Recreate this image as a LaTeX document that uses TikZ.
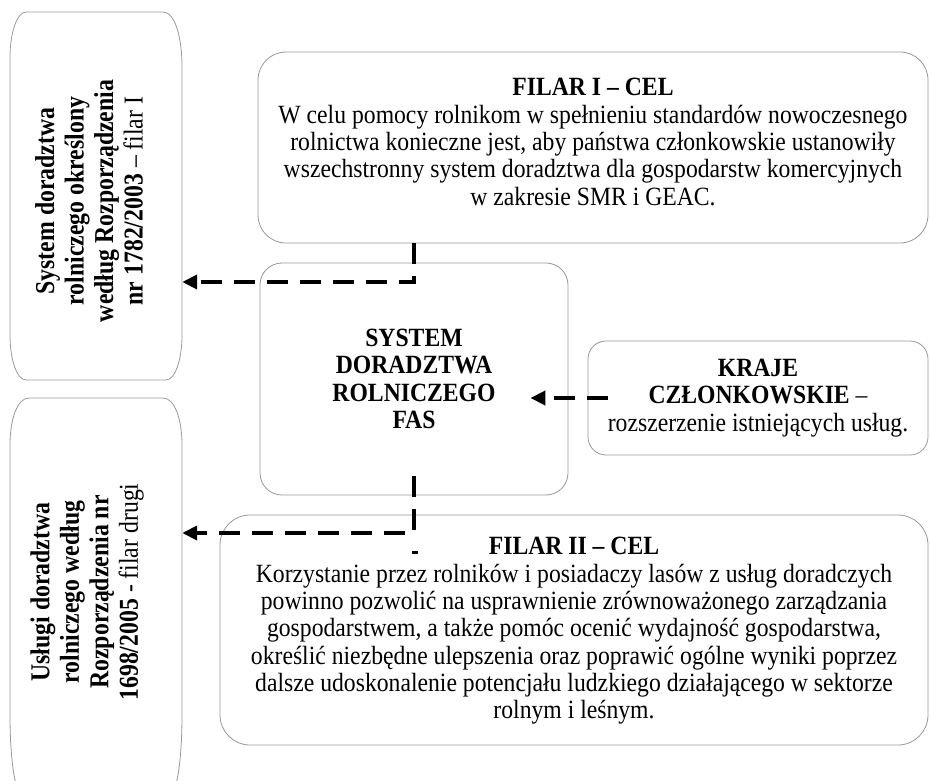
\documentclass[tikz,border=0pt]{standalone}
\usepackage{fontspec}
\setmainfont{Liberation Serif}
\newfontfamily\boxfont[FakeStretch=0.9]{Liberation Serif}
\newfontfamily\sidefont[FakeStretch=0.87]{Liberation Serif}
\usetikzlibrary{arrows.meta}

\tikzset{
  frame/.style={draw=black!40, line width=0.8pt, fill=white, rounded corners=#1},
  frame/.default=22pt,
  txt/.style={align=center, inner sep=0pt, font=\boxfont\fontsize{26.3}{27.3}\selectfont},
  sidetxt/.style={align=center, inner sep=0pt, rotate=90, font=\sidefont\fontsize{27.3}{29.5}\selectfont},
  conn/.style={line width=4.5pt, dash pattern=on 21pt off 12pt, -{Triangle[length=15pt,width=14pt]}}
}

\begin{document}
\begin{tikzpicture}[x=1pt,y=-1pt]
\useasboundingbox (0,0) rectangle (930,781);
\draw[black!40,line width=0.8pt] (10,57) -- (10,335) .. controls (10,360) and (17,380) .. (26,380)
  -- (166,380) .. controls (175,380) and (182,360) .. (182,335) -- (182,67)
  .. controls (182,37) and (175,12) .. (163,12) -- (26,12) .. controls (17,12) and (10,33) .. (10,57);
\draw[black!40,line width=0.8pt] (10,445) -- (10,715) .. controls (10,760) and (15,805) .. (30,805)
  -- (162,805) .. controls (177,805) and (182,760) .. (182,715) -- (182,445)
  .. controls (182,420) and (175,398) .. (163,398) -- (29,398) .. controls (17,398) and (10,420) .. (10,445);
\node[minimum width=172pt,minimum height=368pt] (sys1) at (96,196) {};
\node[minimum width=172pt,minimum height=407pt] (sys2) at (96,601) {};
\node[sidetxt] (sys1txt) at (89,201) {\textbf{System doradztwa}\\ \textbf{rolniczego określony}\\ \textbf{według Rozporządzenia}\\ \textbf{nr 1782/2003} – filar I};
\node[sidetxt] (sys2txt) at (87,592) {\textbf{Usługi doradztwa}\\ \textbf{rolniczego według}\\ \textbf{Rozporządzenia nr}\\ \textbf{1698/2005} - filar drugi};

\node[frame=28pt,minimum width=670pt,minimum height=191pt] (cel1) at (593,147.5) {};
\node[txt] (cel1txt) at (593,142) {\textbf{FILAR I – CEL}\\ W celu pomocy rolnikom w spełnieniu standardów nowoczesnego\\ rolnictwa konieczne jest, aby państwa członkowskie ustanowiły\\ wszechstronny system doradztwa dla gospodarstw komercyjnych\\ w zakresie SMR i GEAC.};
\node[frame,minimum width=308pt,minimum height=232pt,txt] (fas) at (414,379) {\textbf{SYSTEM}\\ \textbf{DORADZTWA}\\ \textbf{ROLNICZEGO}\\ \textbf{FAS}};
\node[frame=18pt,minimum width=340pt,minimum height=114pt,txt] (kraje) at (758,398) {\textbf{KRAJE}\\ \textbf{CZŁONKOWSKIE} –\\ rozszerzenie istniejących usług.};
\node[frame=30pt,minimum width=708pt,minimum height=230pt] (cel2) at (574,630) {};
\node[txt] (cel2txt) at (574,631) {\textbf{FILAR II – CEL}\\ Korzystanie przez rolników i posiadaczy lasów z usług doradczych\\ powinno pozwolić na usprawnienie zrównoważonego zarządzania\\ gospodarstwem, a także pomóc ocenić wydajność gospodarstwa,\\ określić niezbędne ulepszenia oraz poprawić ogólne wyniki poprzez\\ dalsze udoskonalenie potencjału ludzkiego działającego w sektorze\\ rolnym i leśnym.};

\coordinate (k1) at (sys1.east |- 0,282);
\coordinate (k2) at (sys2.east |- 0,533);
\draw[conn] (fas.north |- cel1.south) |- (k1);
\draw[conn] ([yshift=19pt]fas.south) |- (k2);
\draw[conn] ([xshift=20pt]kraje.west) -- ([xshift=-38pt]fas.east |- kraje.west);
\draw[line width=3pt] (412,552) -- (418,552);
\end{tikzpicture}
\end{document}
